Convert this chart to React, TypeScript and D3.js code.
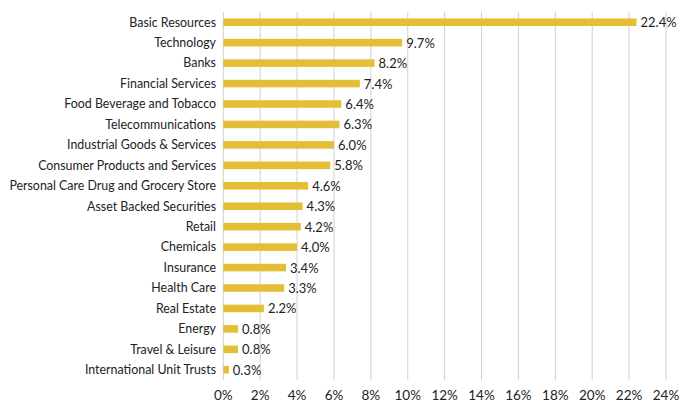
import React from "react";
import * as d3 from "d3";

const categories = [
  "Basic Resources",
  "Technology",
  "Banks",
  "Financial Services",
  "Food Beverage and Tobacco",
  "Telecommunications",
  "Industrial Goods & Services",
  "Consumer Products and Services",
  "Personal Care Drug and Grocery Store",
  "Asset Backed Securities",
  "Retail",
  "Chemicals",
  "Insurance",
  "Health Care",
  "Real Estate",
  "Energy",
  "Travel & Leisure",
  "International Unit Trusts",
];
const values = [22.4, 9.7, 8.2, 7.4, 6.4, 6.3, 6.0, 5.8, 4.6, 4.3, 4.2, 4.0, 3.4, 3.3, 2.2, 0.8, 0.8, 0.3];
const ticks = [0, 2, 4, 6, 8, 10, 12, 14, 16, 18, 20, 22, 24];

const W = 694;
const H = 403;
const left = 223.3;
const right = 666;
const top = 12;
const bottom = 380;
const font = "Lato, 'Open Sans', sans-serif";

export default function App() {
  const x = d3.scaleLinear().domain([0, 24]).range([left, right]);
  const y = d3.scaleBand<string>().domain(categories).range([top, bottom]).paddingInner(0.63).paddingOuter(0.315);
  return (
    <svg width={W} height={H} style={{ position: "absolute", left: 0, top: 0 }}>
      <rect width={W} height={H} fill="#fff" />
      {ticks.map((t) => (
        <g key={t}>
          <line x1={x(t)} x2={x(t)} y1={top} y2={bottom} stroke="#d0d0d0" strokeWidth={1} />
          <text x={x(t)} y={400} textAnchor="middle" fontFamily={font} fontSize={13.5} fill="#222">
            {t}%
          </text>
        </g>
      ))}
      {categories.map((c, i) => {
        const yc = (y(c) as number) + y.bandwidth() / 2;
        return (
          <g key={c}>
            <rect x={x(0)} y={y(c)} width={x(values[i]) - x(0)} height={y.bandwidth()} fill="#E3BE36" />
            <text x={216} y={yc} dy="0.35em" textAnchor="end" fontFamily={font} fontSize={12.4} fill="#222">
              {c}
            </text>
            <text x={x(values[i]) + 4} y={yc + 0.5} dy="0.35em" fontFamily={font} fontSize={13} fill="#222">
              {values[i].toFixed(1)}%
            </text>
          </g>
        );
      })}
    </svg>
  );
}
